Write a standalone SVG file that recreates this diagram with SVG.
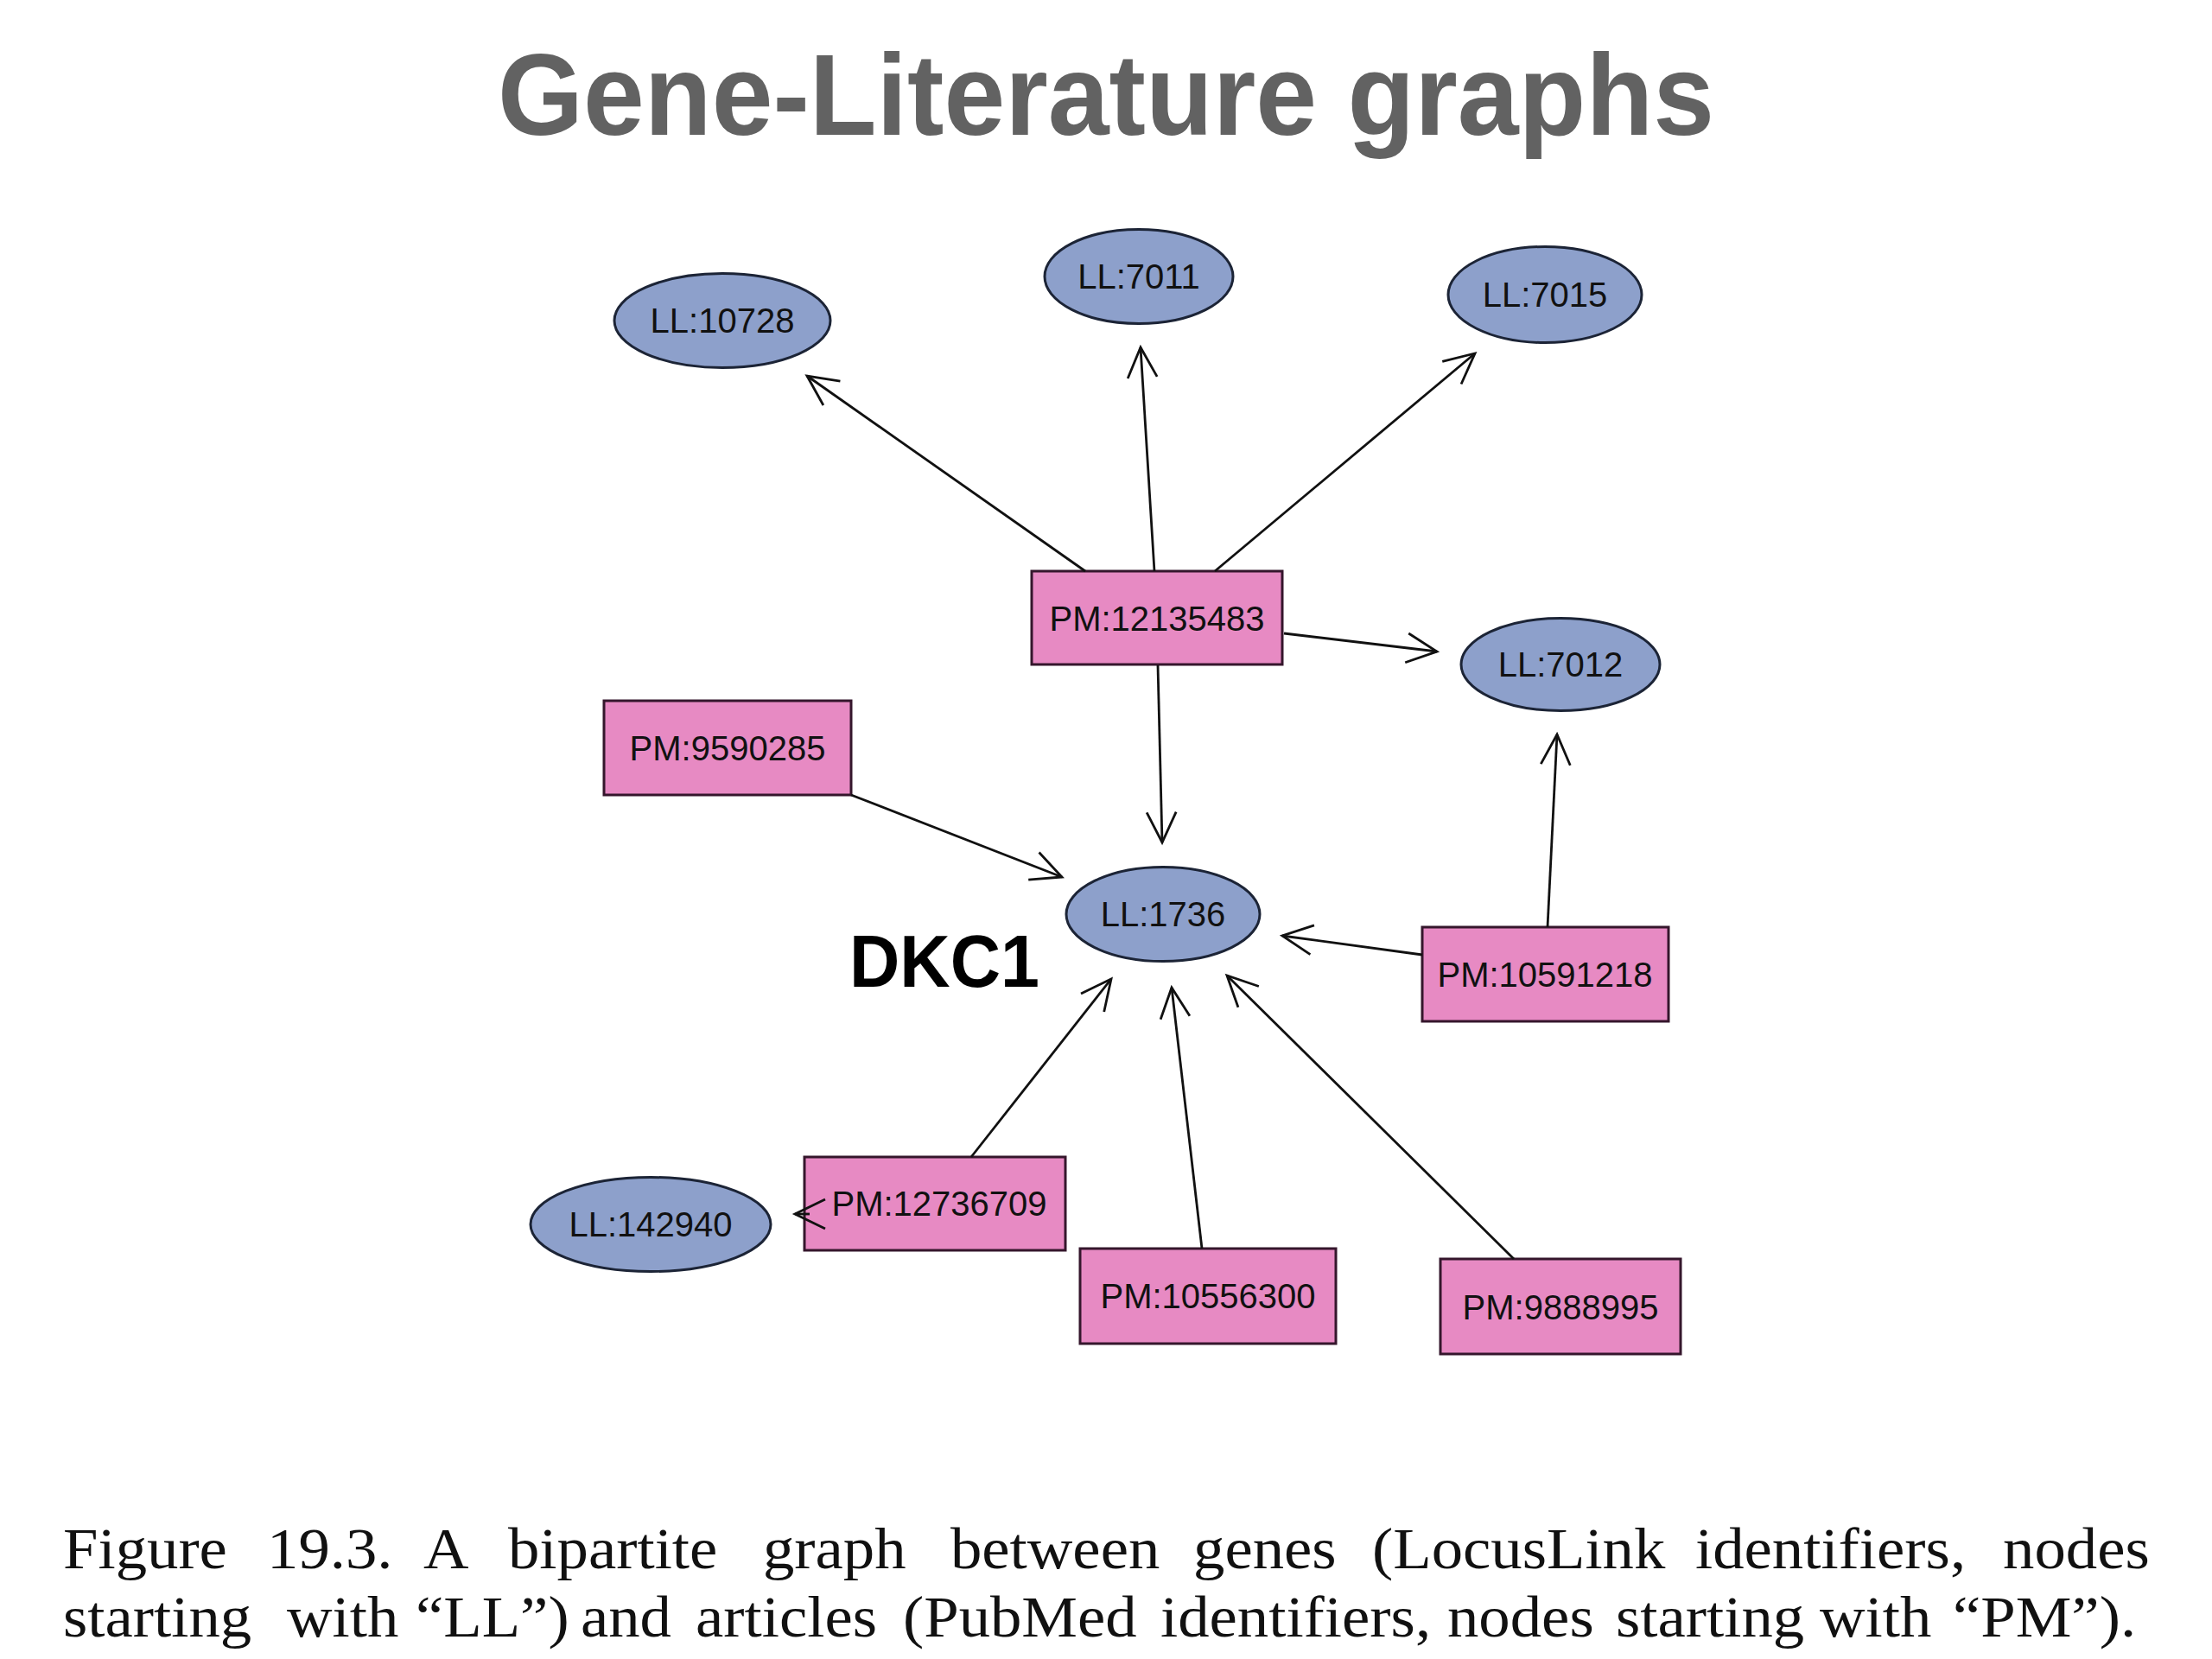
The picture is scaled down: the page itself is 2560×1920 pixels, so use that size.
<svg xmlns="http://www.w3.org/2000/svg" width="2560" height="1920" viewBox="0 0 2560 1920">
<style>
.ll{fill:#8DA0CB;stroke:#1c2436;stroke-width:3}
.pm{fill:#E78AC3;stroke:#35162c;stroke-width:3}
.lbl{font-family:"Liberation Sans",Arial,sans-serif;font-size:40px;fill:#111;text-anchor:middle}
.edge{stroke:#111;stroke-width:2.8;fill:none}
.cap{font-family:"Liberation Serif","Times New Roman",serif;font-size:68px;fill:#111}
</style>
<defs>
<marker id="arr" markerUnits="userSpaceOnUse" viewBox="-44 -24 50 48" refX="0" refY="0" markerWidth="50" markerHeight="48" orient="auto" overflow="visible">
<path d="M-35,-17 L0,0 L-35,17" fill="none" stroke="#111" stroke-width="2.8"/>
</marker>
</defs>
<rect width="2560" height="1920" fill="#fff"/>
<text x="1280" y="156" font-family="'Liberation Sans',Arial,sans-serif" font-weight="bold" font-size="134" fill="#626262" text-anchor="middle" textLength="1408" lengthAdjust="spacingAndGlyphs">Gene-Literature graphs</text>

<g id="LL10728"><ellipse class="ll" cx="836" cy="371" rx="125" ry="54.5"/><text class="lbl" x="836" y="385">LL:10728</text></g>
<g id="LL7011"><ellipse class="ll" cx="1318" cy="320" rx="109" ry="54.5"/><text class="lbl" x="1318" y="334">LL:7011</text></g>
<g id="LL7015"><ellipse class="ll" cx="1788" cy="341" rx="112" ry="55.5"/><text class="lbl" x="1788" y="355">LL:7015</text></g>
<g id="LL7012"><ellipse class="ll" cx="1806" cy="769" rx="115" ry="53.5"/><text class="lbl" x="1806" y="783">LL:7012</text></g>
<g id="LL1736"><ellipse class="ll" cx="1346" cy="1058" rx="112" ry="54.5"/><text class="lbl" x="1346" y="1072">LL:1736</text></g>
<g id="LL142940"><ellipse class="ll" cx="753" cy="1417" rx="139" ry="54.5"/><text class="lbl" x="753" y="1431">LL:142940</text></g>

<g id="PM12135483"><rect class="pm" x="1194" y="661" width="290" height="108"/><text class="lbl" x="1339" y="730">PM:12135483</text></g>
<g id="PM9590285"><rect class="pm" x="699" y="811" width="286" height="109"/><text class="lbl" x="842" y="880">PM:9590285</text></g>
<g id="PM10591218"><rect class="pm" x="1646" y="1073" width="285" height="109"/><text class="lbl" x="1788" y="1142">PM:10591218</text></g>
<g id="PM12736709"><rect class="pm" x="931" y="1339" width="302" height="108"/><text class="lbl" x="1087" y="1407">PM:12736709</text></g>
<g id="PM10556300"><rect class="pm" x="1250" y="1445" width="296" height="110"/><text class="lbl" x="1398" y="1514">PM:10556300</text></g>
<g id="PM9888995"><rect class="pm" x="1667" y="1457" width="278" height="110"/><text class="lbl" x="1806" y="1527">PM:9888995</text></g>

<g id="DKC1"><text x="983" y="1142" font-family="'Liberation Sans',Arial,sans-serif" font-weight="bold" font-size="85" fill="#000" textLength="220" lengthAdjust="spacingAndGlyphs">DKC1</text></g>

<g id="connectors">
<line class="edge" x1="1256" y1="661" x2="934" y2="435" marker-end="url(#arr)"/>
<line class="edge" x1="1336" y1="661" x2="1320" y2="402" marker-end="url(#arr)"/>
<line class="edge" x1="1406" y1="661" x2="1707" y2="409" marker-end="url(#arr)"/>
<line class="edge" x1="1486" y1="733" x2="1663" y2="754" marker-end="url(#arr)"/>
<line class="edge" x1="1340" y1="770" x2="1345" y2="975" marker-end="url(#arr)"/>
<line class="edge" x1="985" y1="920" x2="1229" y2="1015" marker-end="url(#arr)"/>
<line class="edge" x1="1791" y1="1073" x2="1802" y2="850" marker-end="url(#arr)"/>
<line class="edge" x1="1646" y1="1105" x2="1484" y2="1083" marker-end="url(#arr)"/>
<line class="edge" x1="1124" y1="1339" x2="1286" y2="1133" marker-end="url(#arr)"/>
<line class="edge" x1="1391" y1="1445" x2="1356" y2="1143" marker-end="url(#arr)"/>
<line class="edge" x1="1752" y1="1457" x2="1420" y2="1129" marker-end="url(#arr)"/>
<line class="edge" x1="937" y1="1405" x2="920" y2="1405" marker-end="url(#arr)"/>
</g>

<g id="caption" transform="scale(1.07,1)">
<text class="cap" y="1815"><tspan x="68.2">Figure</tspan><tspan x="288.8">19.3.</tspan><tspan x="457.9">A</tspan><tspan x="549.5">bipartite</tspan><tspan x="825.2">graph</tspan><tspan x="1028">between</tspan><tspan x="1290.7">genes</tspan><tspan x="1484.1">(LocusLink</tspan><tspan x="1833.6">identifiers,</tspan><tspan x="2166.4">nodes</tspan></text>
<text class="cap" y="1894"><tspan x="68.2">starting</tspan><tspan x="310.3">with</tspan><tspan x="449.5">“LL”)</tspan><tspan x="628">and</tspan><tspan x="752.3">articles</tspan><tspan x="976.6">(PubMed</tspan><tspan x="1255.1">identifiers,</tspan><tspan x="1565.4">nodes</tspan><tspan x="1747.7">starting</tspan><tspan x="1968.2">with</tspan><tspan x="2112.1">“PM”).</tspan></text>
</g>
</svg>
